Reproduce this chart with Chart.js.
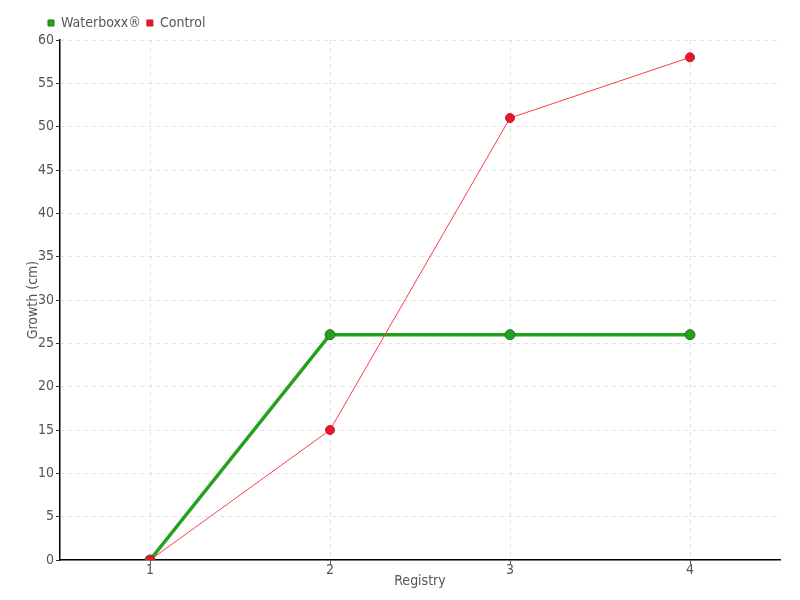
<!DOCTYPE html>
<html lang="en">
<head>
    <meta charset="UTF-8">
    <title>Growth per Registry</title>
    <script src="https://cdn.jsdelivr.net/npm/chart.js"></script>
    <style>
        html, body { margin: 0; padding: 0; background: #fff; }
        .chart-box { width: 800px; height: 600px; }
    </style>
</head>
<body>
    <div class="chart-box">
        <canvas id="growthChart"></canvas>
    </div>

    <script>
        // Chart data
        const registries = ['1', '2', '3', '4'];
        const waterboxx = [0, 26, 26, 26];
        const control = [0, 15, 51, 58];

        const textColor = '#555';
        const fontFamily = '"DejaVu Sans Condensed", "Liberation Sans Narrow", "DejaVu Sans", sans-serif';
        Chart.defaults.font.family = fontFamily;
        Chart.defaults.color = textColor;

        const ctx = document.getElementById('growthChart').getContext('2d');
        new Chart(ctx, {
            type: 'line',
            data: {
                labels: registries,
                datasets: [{
                    label: 'Waterboxx®',
                    data: waterboxx,
                    order: 1,
                    borderColor: '#25a01c',
                    backgroundColor: '#25a01c',
                    borderWidth: 3.5,
                    pointRadius: 5,
                    pointBackgroundColor: '#25a01c',
                    pointBorderColor: '#1a7d15',
                    pointBorderWidth: 1,
                    tension: 0
                }, {
                    label: 'Control',
                    data: control,
                    order: 0,
                    borderColor: '#ff3b4e',
                    backgroundColor: '#e8182a',
                    borderWidth: 1,
                    pointRadius: 4.5,
                    pointBackgroundColor: '#e8182a',
                    pointBorderColor: '#d01525',
                    pointBorderWidth: 1,
                    tension: 0
                }]
            },
            options: {
                responsive: true,
                maintainAspectRatio: false,
                animation: false,
                layout: { padding: { left: 25, right: 20, top: 10, bottom: 0 } },
                plugins: {
                    legend: {
                        position: 'top',
                        align: 'start',
                        labels: {
                            usePointStyle: true,
                            pointStyle: 'rect',
                            boxWidth: 6,
                            boxHeight: 6,
                            padding: 6,
                            color: textColor,
                            font: { size: 14 },
                            sort: (a, b) => a.datasetIndex - b.datasetIndex
                        }
                    },
                    tooltip: { enabled: false }
                },
                scales: {
                    x: {
                        offset: true,
                        border: { color: '#000', width: 1.5, dash: [4, 4] },
                        grid: {
                            color: '#e0e0e0',
                            tickColor: '#555',
                            tickLength: 4,
                            offset: false
                        },
                        ticks: { padding: -2, font: { size: 14 }, color: textColor },
                        title: {
                            display: true,
                            text: 'Registry',
                            color: textColor,
                            font: { size: 14 },
                            padding: { top: 0, bottom: 10 }
                        },
                        afterFit: (axis) => { axis.height = 40; }
                    },
                    y: {
                        min: 0,
                        max: 60,
                        border: { color: '#000', width: 1.5, dash: [4, 4] },
                        grid: {
                            color: '#e0e0e0',
                            tickColor: '#333',
                            tickLength: 4
                        },
                        ticks: { stepSize: 5, padding: 2, font: { size: 14 }, color: textColor },
                        title: {
                            display: true,
                            text: 'Growth (cm)',
                            color: textColor,
                            font: { size: 14 },
                            padding: { top: 0, bottom: 0 }
                        },
                        afterFit: (axis) => { axis.width = 35; }
                    }
                }
            },
            plugins: [{
                // nudge the legend so it starts just left of the y axis
                id: 'legendShift',
                afterLayout: (chart) => {
                    chart.legend.left += 17;
                }
            }]
        });
    </script>
</body>
</html>
